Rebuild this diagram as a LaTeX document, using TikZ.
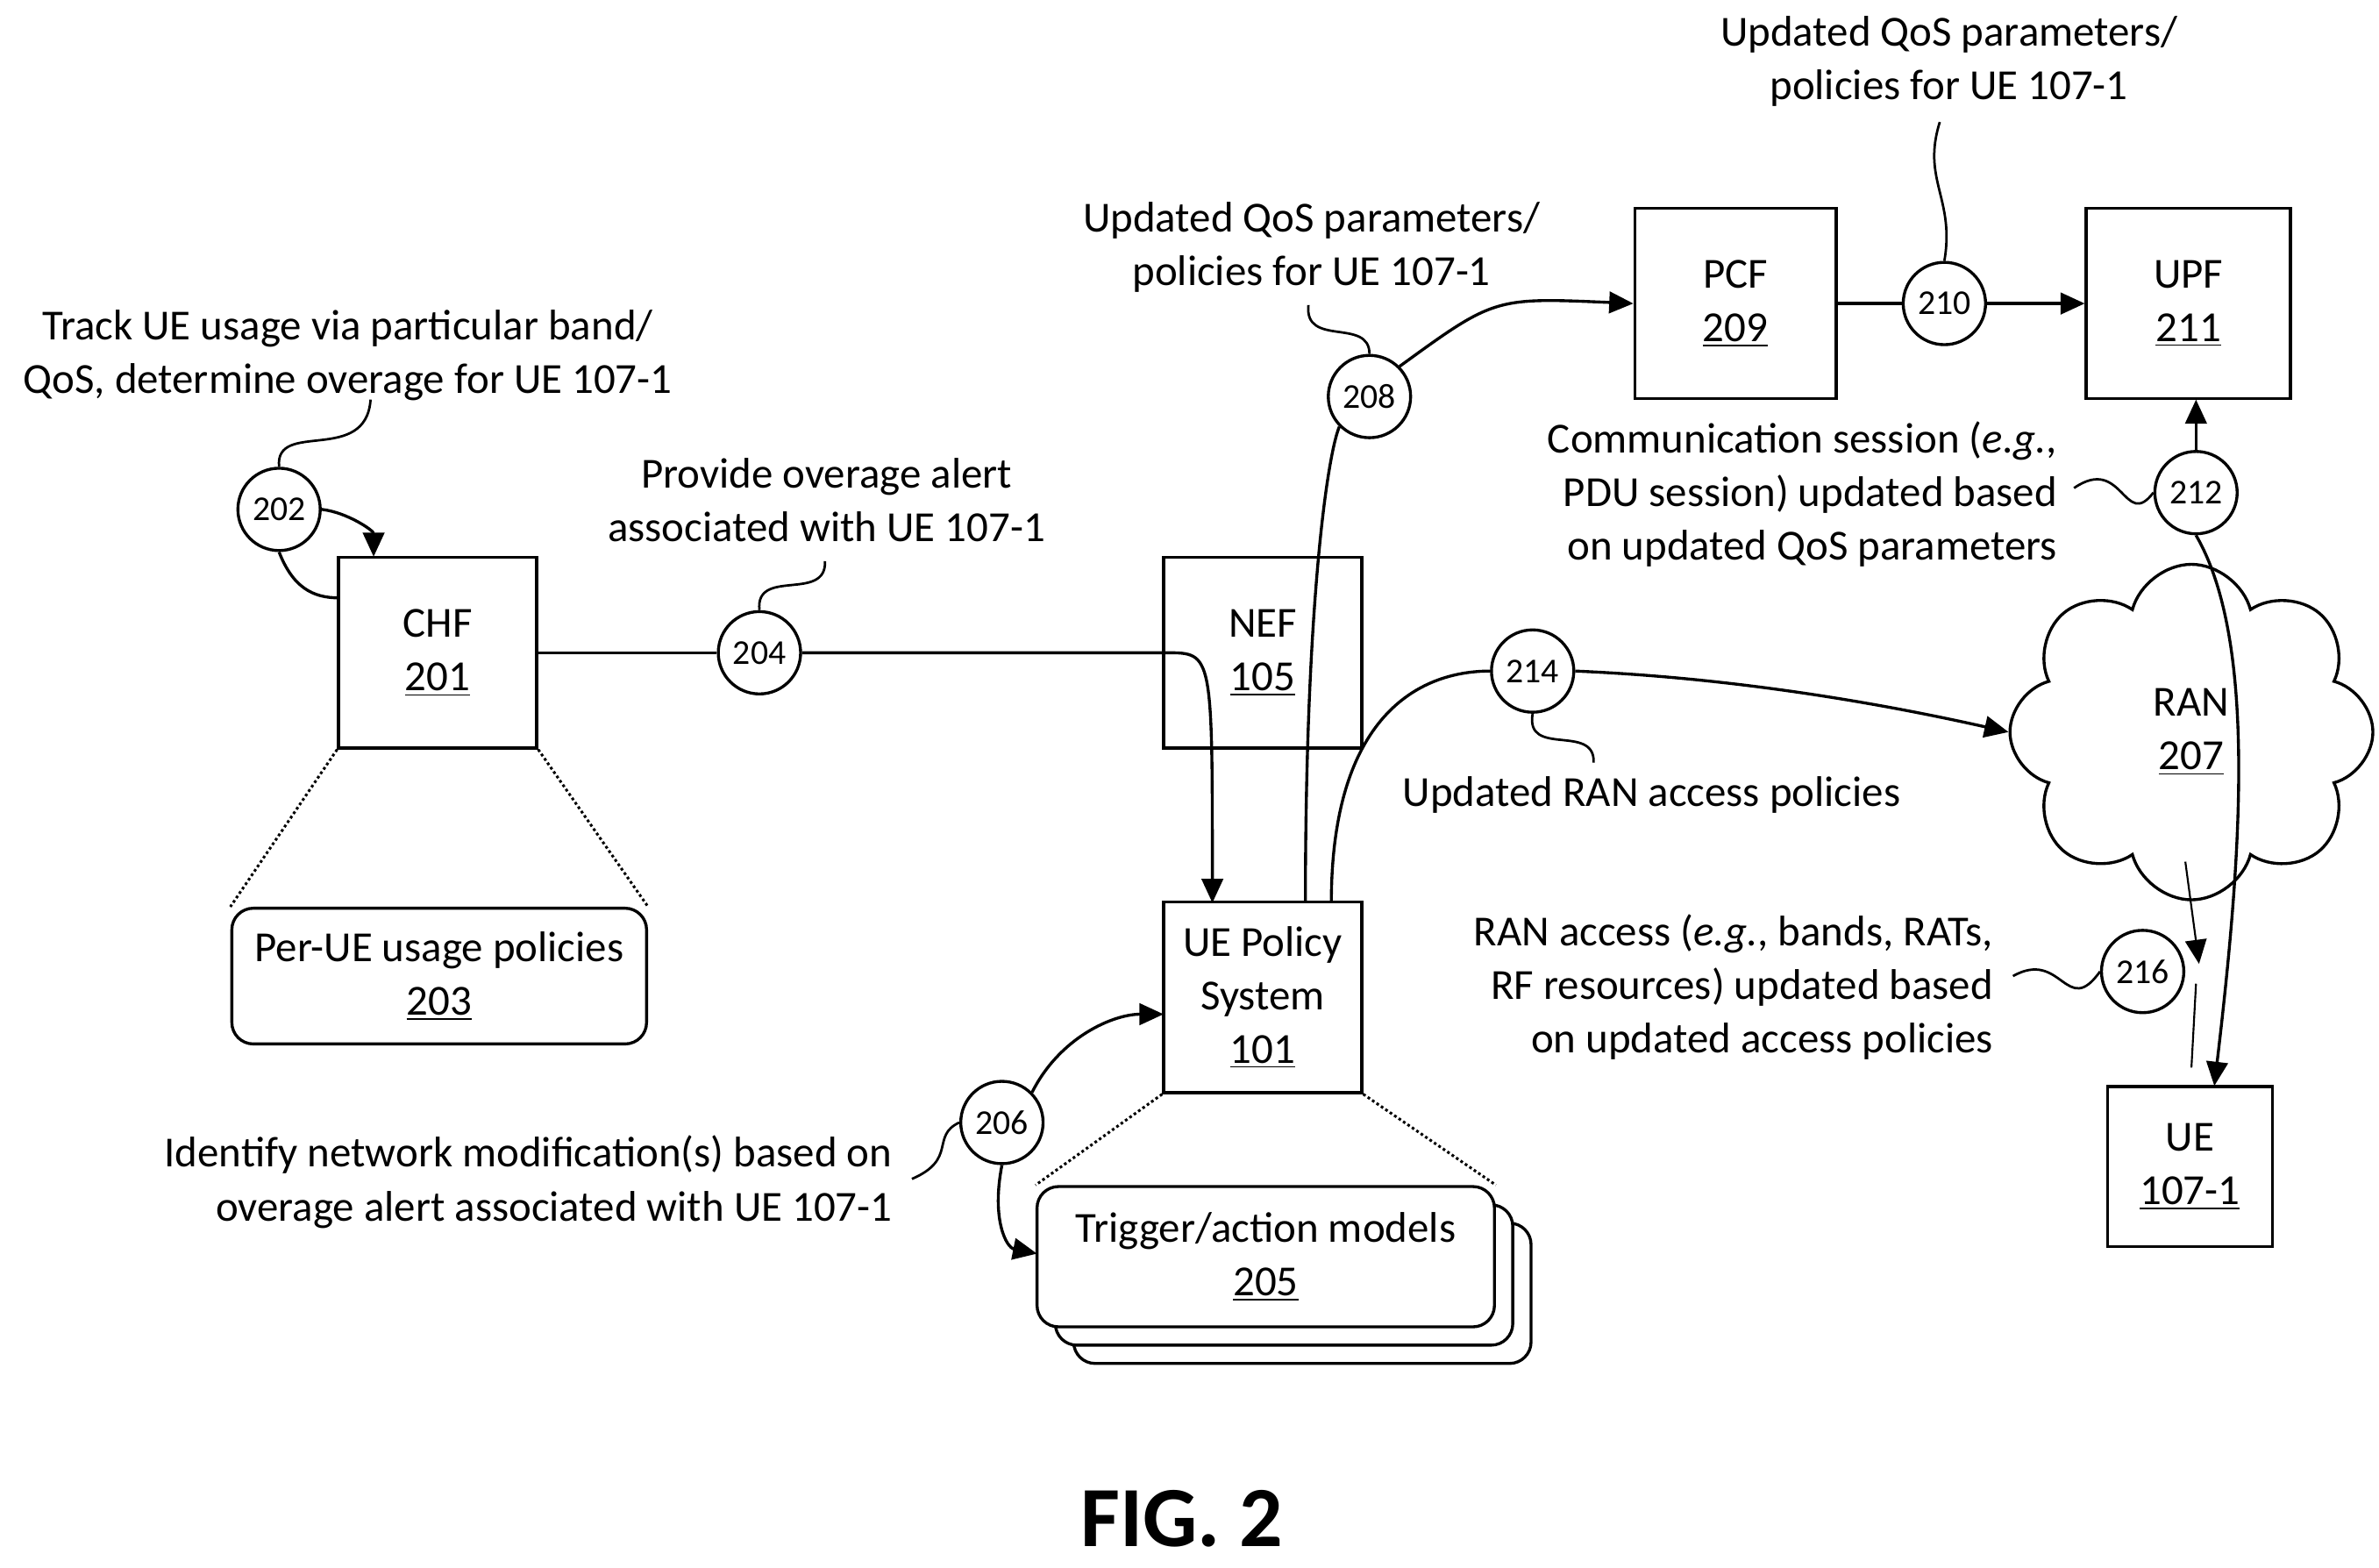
\documentclass[tikz,border=0pt]{standalone}
\usepackage{fontspec}
\setmainfont{Carlito}
\usetikzlibrary{shapes.symbols,arrows.meta}
\begin{document}
\fontsize{16}{20}\selectfont
\begin{tikzpicture}[x=0.02cm,y=-0.02cm,line width=1.1pt,
  box/.style={draw,align=center,minimum width=2.6cm,minimum height=2.5cm,inner sep=0},
  rbox/.style={draw,rounded corners=8pt,align=center,fill=white,minimum width=6cm,minimum height=1.84cm},
  stepcirc/.style={circle,draw,minimum size=1.08cm,inner sep=0,font=\fontsize{13}{14}\selectfont},
  txt/.style={align=center,inner sep=0},
  arr/.style={-{Triangle[length=9pt,width=8pt]}},
  wig/.style={line width=0.9pt},
  dot/.style={densely dotted,line width=1pt}]
\useasboundingbox (0,0) rectangle (1560,1028);

% CHF and its usage policies
\node[box] (chf) at (287,428) {CHF\\\underline{201}};
\node[rbox,minimum width=5.44cm,minimum height=1.78cm] (perue) at (288,640) {Per-UE usage policies\\\underline{203}};
\draw[dot] (chf.south west) -- (perue.north west);
\draw[dot] (chf.south east) -- (perue.north east);

% NEF, UE policy system and models
\node[box] (nef) at (828,428) {NEF\\\underline{105}};
\node[box] (ueps) at (828,654) {UE Policy\\System\\\underline{101}};
\node[rbox] (trig3) at (854,848) {};
\node[rbox] (trig2) at (842,836) {};
\node[rbox] (trig) at (830,824) {Trigger/action models\\\underline{205}};
\draw[dot] (ueps.south west) -- (trig.north west);
\draw[dot] (ueps.south east) -- (trig.north east);

% core and RAN
\node[box,minimum width=2.64cm] (pcf) at (1138,199) {PCF\\\underline{209}};
\node[box,minimum width=2.68cm] (upf) at (1435,199) {UPF\\\underline{211}};
\node[cloud,draw,cloud puffs=8,aspect=1.1,minimum width=4.76cm,minimum height=4.4cm,align=center] (ran) at (1437,480) {RAN\\\underline{207}};
\node[box,minimum width=2.16cm,minimum height=2.1cm] (ue) at (1436,765) {UE\\\underline{107-1}};

% step circles
\node[stepcirc] (c202) at (183,334) {202};
\node[stepcirc] (c204) at (498,428) {204};
\node[stepcirc] (c206) at (657,736) {206};
\node[stepcirc] (c208) at (898,260) {208};
\node[stepcirc] (c210) at (1275,199) {210};
\node[stepcirc] (c212) at (1440,323) {212};
\node[stepcirc] (c214) at (1005,440) {214};
\node[stepcirc] (c216) at (1405,637) {216};

% labels
\node[txt] (t202) at (228,233) {Track UE usage via particular band/\\QoS, determine overage for UE 107-1};
\node[txt] (t204) at (542,328) {Provide overage alert\\associated with UE 107-1};
\node[txt,anchor=east,align=right] (t206) at (586,775) {Identify network modification(s) based on\\overage alert associated with UE 107-1};
\node[txt] (t208) at (860,162) {Updated QoS parameters/\\policies for UE 107-1};
\node[txt] (t210) at (1278,40) {Updated QoS parameters/\\policies for UE 107-1};
\node[txt,anchor=east,align=right] (t212) at (1350,324) {Communication session (\emph{e.g.},\\PDU session) updated based\\on updated QoS parameters};
\node[txt] (t214) at (1083,521) {Updated RAN access policies};
\node[txt,anchor=east,align=right] (t216) at (1308,647) {RAN access (\emph{e.g.}, bands, RATs,\\RF resources) updated based\\on updated access policies};
\node[txt,font=\fontsize{32}{36}\selectfont\bfseries] (fig) at (775,996) {FIG. 2};

% connectors
\coordinate (chftop) at (245,365);
\coordinate (chfleft) at (222,392);
\draw[arr] (c202.east) .. controls (228,336) and (245,348) .. (chftop);
\draw (c202.south) .. controls (192,385) and (205,392) .. (chfleft);
\coordinate (uepsin) at (795,592);
\draw (chf.east) -- (c204.west);
\draw[arr] (c204.east) -- (765,428) .. controls (795,428) .. (uepsin);
\coordinate (uepsa) at (856,592);
\coordinate (uepsb) at (873,592);
\draw (uepsa) .. controls (856,400) and (870,300) .. (c208.south west);
\draw[arr] (c208.north east) .. controls (980,195) .. (pcf.west);
\draw (pcf.east) -- (c210.west);
\draw[arr] (c210.east) -- (upf.west);
\draw (uepsb) .. controls (873,470) and (930,440) .. (c214.west);
\draw[arr] (c214.east) .. controls (1150,445) and (1250,465) .. (ran.west);
\coordinate (upfin) at (1440,262);
\coordinate (uein) at (1452,712);
\draw[arr] (c212.north) -- (upfin);
\draw[arr] (c212.south) .. controls (1480,420) and (1470,560) .. (uein);
\coordinate (rana) at (1433,565);
\coordinate (ranb) at (1442,632);
\coordinate (ranc) at (1440,645);
\coordinate (rand) at (1437,700);
\draw[arr,line width=0.7pt] (rana) -- (ranb);
\draw[line width=0.7pt] (ranc) -- (rand);
\coordinate (uepsl) at (763,665);
\coordinate (trigl) at (680,822);
\draw[arr] (c206.north east) .. controls (695,680) and (730,665) .. (uepsl);
\draw[arr] (c206.south) .. controls (650,800) and (660,818) .. (trigl);

% wiggly leader lines
\draw[wig] (c202.north) .. controls (180,275) and (240,305) .. (243,262);
\draw[wig] (c204.north) .. controls (495,372) and (542,395) .. (541,368);
\draw[wig] (598,773) .. controls (628,760) and (610,745) .. (c206.west);
\draw[wig] (858,200) .. controls (855,228) and (898,208) .. (c208.north);
\draw[wig] (c210.north) .. controls (1282,130) and (1260,118) .. (1272,80);
\draw[wig] (1360,320) .. controls (1392,298) and (1393,348) .. (c212.west);
\draw[wig] (c214.south) .. controls (1000,497) and (1046,474) .. (1045,500);
\draw[wig] (1320,640) .. controls (1352,622) and (1355,668) .. (c216.west);
\end{tikzpicture}
\end{document}
